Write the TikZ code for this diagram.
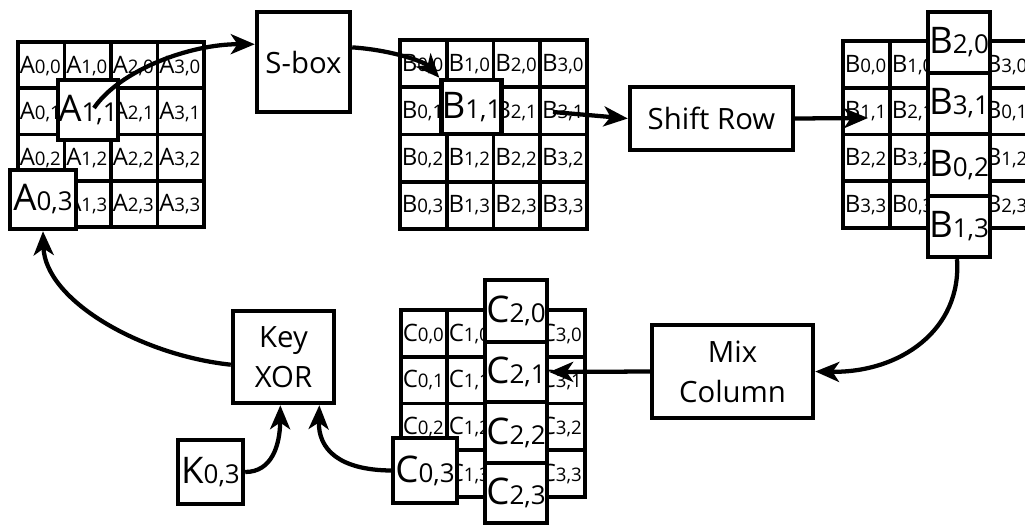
\documentclass[tikz,border=0pt]{standalone}
\usepackage{fontspec}
\setmainfont{Open Sans}
\usetikzlibrary{arrows.meta,calc}
\newcommand\cellt[2]{{\fontsize{18}{18}\selectfont #1}{\fontsize{14}{14}\selectfont #2}}
\newcommand\bigt[2]{{\fontsize{27.5}{27.5}\selectfont #1}{\fontsize{19.5}{19.5}\selectfont #2}}
\tikzset{
  cellline/.style={line width=2.9pt},
  gframe/.style={line width=3.6pt},
  wh/.style 2 args={minimum width=#1*0.75pt, minimum height=#2*0.75pt},
  ovl/.style={draw, fill=white, line width=3.3pt, inner sep=0pt},
  proc/.style={draw, fill=white, line width=3.3pt, inner sep=0pt, align=center, font=\fontsize{22}{30}\selectfont},
  arr/.style={line width=3.2pt, -{Stealth[length=18pt,width=15pt,inset=5pt]}},
  ctext/.style={anchor=base west, inner sep=0pt},
}
\begin{document}
\begin{tikzpicture}[x=0.75pt,y=-0.75pt]
\useasboundingbox (0,0) rectangle (1025,525);
\clip (0,0) rectangle (1025,525);
\fill[white] (0,0) rectangle (1025,525);

% ---------- grid A ----------
\foreach \i in {0,...,3} \foreach \j in {0,...,3} {
  \node[ctext] (a\i\j) at ({19.5+46.5*\i},{42+46.25*\j+31}) {\cellt{A}{\i,\j}};
}
\foreach \k in {1,2,3} {
  \draw[cellline] ({18+46.5*\k},42) -- ({18+46.5*\k},227);
  \draw[cellline] (18,{42+46.25*\k}) -- (204,{42+46.25*\k});
}
\draw[gframe] (18,42) rectangle (204,227);
\node[ovl, wh={60}{60}] (A11) at (88,110) {\bigt{A}{1,1}};
\node[ovl, wh={66}{59}] (A03) at (43,199.5) {\bigt{A}{0,3}};

% ---------- grid B ----------
\foreach \i in {0,...,3} \foreach \j in {0,...,3} {
  \node[ctext] (b\i\j) at ({401.5+46.75*\i},{40+47.25*\j+31}) {\cellt{B}{\i,\j}};
}
\foreach \k in {1,2,3} {
  \draw[cellline] ({400+46.75*\k},40) -- ({400+46.75*\k},229);
  \draw[cellline] (400,{40+47.25*\k}) -- (587,{40+47.25*\k});
}
\draw[gframe] (400,40) rectangle (587,229);
\node[ovl, wh={59}{54}] (B11) at (471.5,107) {\bigt{B}{1,1}};
\coordinate (b31p) at (553,112);

% ---------- shifted grid B ----------
\foreach \i in {0,...,3} \foreach \j in {0,...,3} {
  \pgfmathtruncatemacro\kk{mod(\i+\j,4)}
  \node[ctext] (s\i\j) at ({844.5+47*\i},{41+46.75*\j+31}) {\cellt{B}{\kk,\j}};
}
\foreach \k in {1,2,3} {
  \draw[cellline] ({843+47*\k},41) -- ({843+47*\k},228);
  \draw[cellline] (843,{41+46.75*\k}) -- (1031,{41+46.75*\k});
}
\draw[gframe] (843,41) rectangle (1031,228);
\node[ovl, wh={62}{61}] (S20) at (959,42.5) {\bigt{B}{2,0}};
\node[ovl, wh={62}{61}] (S31) at (959,103.5) {\bigt{B}{3,1}};
\node[ovl, wh={62}{62}] (S02) at (959,165) {\bigt{B}{0,2}};
\node[ovl, wh={62}{61}] (S13) at (959,226.5) {\bigt{B}{1,3}};
\coordinate (s11p) at (868,118);

% ---------- grid C ----------
\foreach \i in {0,...,3} \foreach \j in {0,...,3} {
  \node[ctext] (c\i\j) at ({402.5+46*\i},{310+46.75*\j+31}) {\cellt{C}{\i,\j}};
}
\foreach \k in {1,2,3} {
  \draw[cellline] ({401+46*\k},310) -- ({401+46*\k},497);
  \draw[cellline] (401,{310+46.75*\k}) -- (585,{310+46.75*\k});
}
\draw[gframe] (401,310) rectangle (585,497);
\node[ovl, wh={62}{62}] (C20) at (516,311) {\bigt{C}{2,0}};
\node[ovl, wh={62}{60}] (C21) at (516,372) {\bigt{C}{2,1}};
\node[ovl, wh={62}{61}] (C22) at (516,432.5) {\bigt{C}{2,2}};
\node[ovl, wh={62}{60}] (C23) at (516,493) {\bigt{C}{2,3}};
\node[ovl, wh={64}{65}] (C03) at (425,470.5) {\bigt{C}{0,3}};

% ---------- process boxes ----------
\node[proc, wh={93}{100}] (Sbox) at (303.5,62) {S-box};
\node[proc, wh={163}{63}] (Shift) at (711.5,118.5) {Shift Row};
\node[proc, wh={161}{93}] (Mix) at (732.5,371.5) {Mix\\Column};
\node[proc, wh={101}{92}] (Key) at (283.5,357) {Key\\XOR};
\node[ovl, wh={65}{64}] (K03) at (210.5,472) {\bigt{K}{0,3}};

% ---------- connectors ----------
\draw[arr] ($(A11.center)+(6,-2)$) .. controls (120,70) and (190,44) .. ($(Sbox.north west)!0.33!(Sbox.south west)$);
\draw[arr] ($(Sbox.north east)!0.36!(Sbox.south east)$) .. controls (392,50) and (425,62) .. (B11.north west);
\draw[arr] (b31p) -- (Shift.west);
\draw[arr] (Shift.east) -- (s11p);
\draw[arr] ($(S13.south)+(-2,0)$) .. controls (962,330) and (900,373) .. (Mix.east);
\draw[arr] (Mix.west) -- (C21.east);
\draw[arr] ($(Key.north west)!0.58!(Key.south west)$) .. controls (140,355) and (45,300) .. (A03.south);
\draw[arr] (K03.east) .. controls (272,472) and (280,445) .. ($(Key.south west)!0.47!(Key.south east)$);
\draw[arr] (C03.west) .. controls (340,470) and (318,450) .. ($(Key.south west)!0.84!(Key.south east)$);
\end{tikzpicture}
\end{document}
